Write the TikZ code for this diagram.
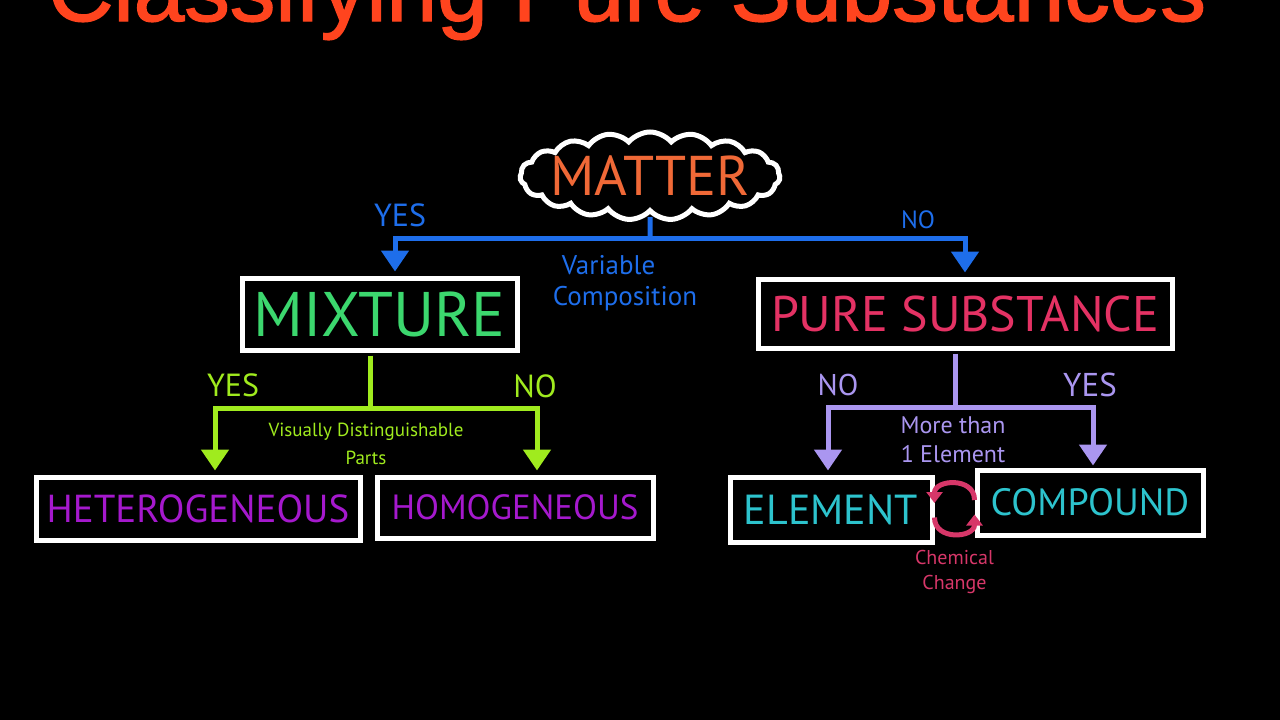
\documentclass[tikz,border=0pt]{standalone}
\usepackage{fontspec}
\setmainfont{PT Sans}
\newfontfamily\titlefont[FakeBold=1.5]{Liberation Sans}
\usetikzlibrary{shapes,arrows.meta,positioning,calc}

\definecolor{titlered}{RGB}{255,68,30}
\definecolor{matterorange}{RGB}{240,105,55}
\definecolor{mixblue}{RGB}{30,110,235}
\definecolor{mixgreen}{RGB}{60,215,110}
\definecolor{purepink}{RGB}{228,50,100}
\definecolor{limegreen}{RGB}{160,235,30}
\definecolor{hetpurple}{RGB}{165,25,205}
\definecolor{lavender}{RGB}{170,150,240}
\definecolor{elemcyan}{RGB}{45,195,205}
\definecolor{cyclepink}{RGB}{215,55,105}

\tikzstyle{textonly} = [draw=none, fill=none, text centered, inner sep=0pt]
\tikzstyle{box} = [draw=white, line width=5pt, fill=black, text centered, inner sep=0pt]
\tikzstyle{cloudbox} = [cloud, cloud puffs=19, cloud puff arc=100, cloud ignores aspect,
draw=white, line width=5pt, fill=black, inner sep=0pt, minimum width=260pt, minimum height=88pt]
\tikzstyle{stem} = [draw, line width=5pt, shorten <=3pt]
\tikzstyle{tedge} = [draw, line width=5pt, -{Triangle[width=27pt,length=21pt]}, shorten >=4pt]
\tikzstyle{cycedge} = [draw=cyclepink, line width=5pt, -{Triangle[width=16pt,length=11pt]}]

\begin{document}
\begin{tikzpicture}[x=1pt, y=1pt]

\useasboundingbox (0,0) rectangle (1280,-720);
\clip (0,0) rectangle (1280,-720);
\fill[black] (0,0) rectangle (1280,-720);

\node[textonly, anchor=base, text=titlered, font=\titlefont\fontsize{91}{91}\selectfont] (title) at (627,-21) {Classifying Pure Substances};

% boxes
\node[cloudbox] (matter) at (650,-176) {};
\node[textonly, text=matterorange, font=\fontsize{56}{56}\selectfont] (mattertext) at (matter.center) {MATTER};

\node[box, minimum width=275pt, minimum height=72pt, text=mixgreen, font=\fontsize{63}{63}\selectfont] (mixture) at (379.5,-314) {MIXTURE};
\node[box, minimum width=414pt, minimum height=69pt, text=purepink, font=\fontsize{50}{50}\selectfont] (pure) at (965,-313.5) {PURE SUBSTANCE};

\node[box, minimum width=324pt, minimum height=63pt, text=hetpurple, font=\fontsize{39}{39}\selectfont] (hetero) at (198,-508.5) {HETEROGENEOUS};
\node[box, minimum width=276pt, minimum height=61pt, text=hetpurple, font=\fontsize{35}{35}\selectfont] (homo) at (515,-507.5) {HOMOGENEOUS};
\node[box, minimum width=202pt, minimum height=65pt, text=elemcyan, font=\fontsize{42}{42}\selectfont] (element) at (831,-509.5) {ELEMENT};
\node[box, minimum width=226pt, minimum height=65pt, text=elemcyan, font=\fontsize{38}{38}\selectfont] (compound) at (1090,-502.5) {COMPOUND};

% split points
\coordinate (msplit) at (650,-238);
\coordinate (gsplit) at (370,-408);
\coordinate (psplit) at (955,-407);

% matter -> mixture / pure substance
\path[stem, mixblue] (matter.south) -- (msplit);
\path[tedge, mixblue] (msplit) -| ([xshift=15.5pt]mixture.north);
\path[tedge, mixblue] (msplit) -| (pure.north);

% mixture -> heterogeneous / homogeneous
\path[stem, limegreen] ([xshift=-9.5pt]mixture.south) -- (gsplit);
\path[tedge, limegreen] (gsplit) -| ([xshift=17pt]hetero.north);
\path[tedge, limegreen] (gsplit) -| ([xshift=22pt]homo.north);

% pure substance -> element / compound
\path[stem, lavender] ([xshift=-10pt]pure.south) -- (psplit);
\path[tedge, lavender] (psplit) -| ([xshift=-3pt]element.north);
\path[tedge, lavender, shorten >=2pt] (psplit) -| ([xshift=3pt]compound.north);

% chemical change cycle
\coordinate (cyc) at ($(element.east)!0.5!(compound.west)$);
\path[cycedge] ([yshift=2.5pt]compound.west) to[out=90, in=90, looseness=1.5] ([yshift=6.5pt]element.east);
\path[cycedge] ([yshift=-8pt]element.east) to[out=-90, in=-90, looseness=1.5] ([yshift=-12pt]compound.west);

% labels
\node[textonly, text=mixblue, font=\fontsize{32}{32}\selectfont] (yesblue) at (400,-215) {YES};
\node[textonly, text=mixblue, font=\fontsize{25}{25}\selectfont] (noblue) at (918,-220) {NO};
\node[textonly, text=mixblue, align=left, font=\fontsize{27}{31}\selectfont] (variable) at (625,-283) {\hspace{9pt}Variable\\Composition};

\node[textonly, text=limegreen, font=\fontsize{32}{32}\selectfont] (yesgreen) at (233,-385) {YES};
\node[textonly, text=limegreen, font=\fontsize{32}{32}\selectfont] (nogreen) at (535,-386) {NO};
\node[textonly, text=limegreen, align=center, font=\fontsize{19}{28}\selectfont] (visual) at (366,-444) {Visually Distinguishable\\Parts};

\node[textonly, text=lavender, font=\fontsize{30}{30}\selectfont] (nolav) at (838,-385) {NO};
\node[textonly, text=lavender, font=\fontsize{33}{33}\selectfont] (yeslav) at (1090,-385) {YES};
\node[textonly, text=lavender, align=center, font=\fontsize{24}{29}\selectfont] (morethan) at (953,-440) {More than\\1 Element};

\node[textonly, text=cyclepink, align=center, below=44pt of cyc, font=\fontsize{20}{25}\selectfont] (chemical) {Chemical\\Change};

\end{tikzpicture}
\end{document}
